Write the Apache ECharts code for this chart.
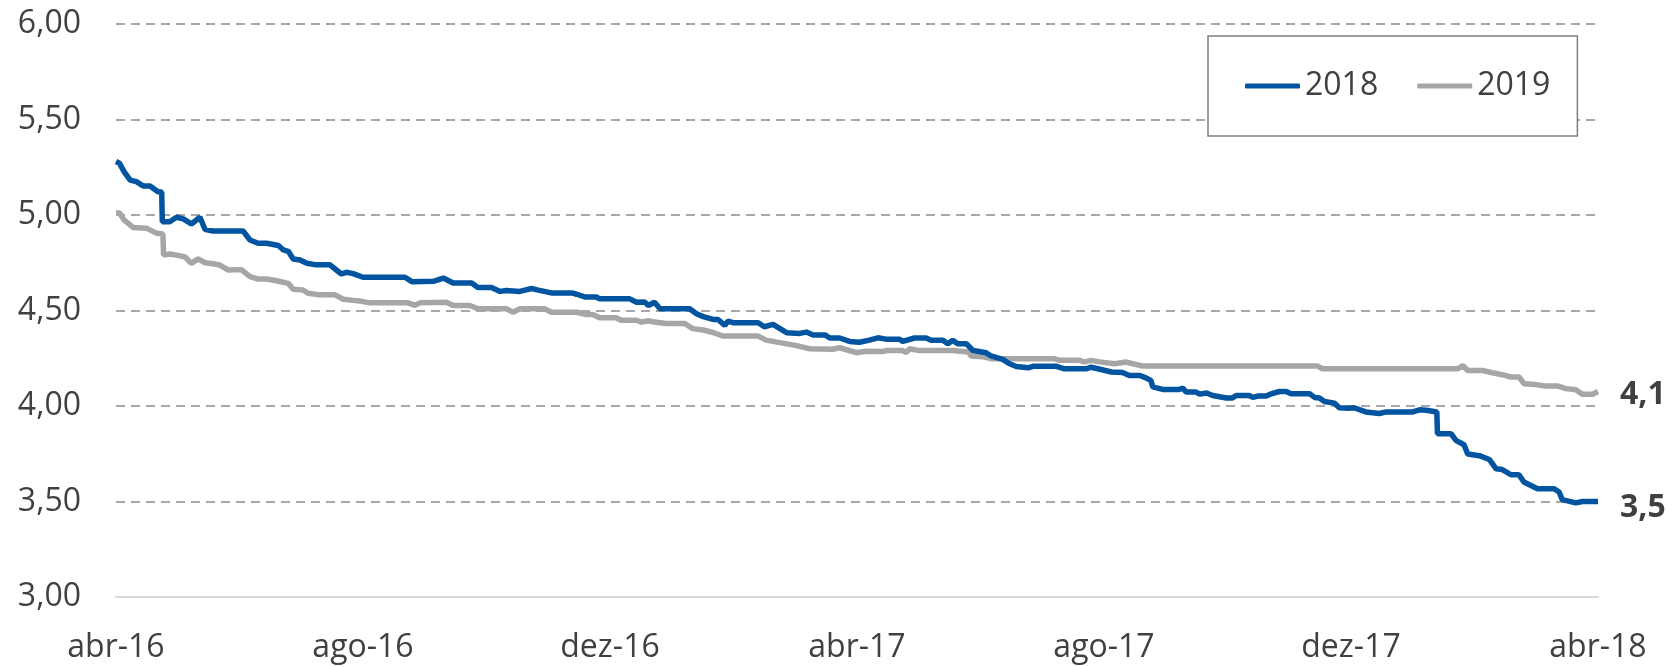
<!DOCTYPE html>
<html>
<head>
<meta charset="utf-8">
<script src="https://cdn.jsdelivr.net/npm/echarts@6/dist/echarts.min.js"></script>
<style>
  html, body { margin: 0; padding: 0; background: #fff; }
  #chart { width: 1676px; height: 667px; }
</style>
</head>
<body>
<div id="chart"></div>
<script>
// rótulos do eixo x, um a cada 4 meses a partir de abr-16
const tickLabels = ['abr-16', 'ago-16', 'dez-16', 'abr-17', 'ago-17', 'dez-17', 'abr-18'];

// 2018: posição em meses desde abr-16 e valor
const meses2018 = [0, 0.06, 0.13, 0.23, 0.33, 0.44, 0.55, 0.68, 0.74, 0.75, 0.87, 0.98, 1.09, 1.22, 1.36, 1.44, 1.57, 2.06, 2.17, 2.30, 2.44, 2.63, 2.71, 2.79, 2.87, 2.98, 3.09, 3.22, 3.46, 3.65, 3.73, 3.84, 4.00, 4.43, 4.46, 4.54, 4.68, 4.79, 5.14, 5.30, 5.46, 5.76, 5.86, 6.08, 6.22, 6.32, 6.54, 6.73, 6.84, 7.05, 7.38, 7.46, 7.59, 7.78, 7.83, 8.32, 8.43, 8.56, 8.62, 8.72, 8.81, 9.29, 9.40, 9.51, 9.67, 9.75, 9.86, 9.91, 9.99, 10.40, 10.50, 10.64, 10.86, 11.07, 11.18, 11.29, 11.48, 11.56, 11.72, 11.88, 12.04, 12.20, 12.34, 12.47, 12.69, 12.74, 12.93, 13.12, 13.20, 13.39, 13.47, 13.55, 13.63, 13.77, 13.88, 14.09, 14.17, 14.36, 14.47, 14.58, 14.77, 14.85, 15.23, 15.36, 15.71, 15.79, 15.90, 16.12, 16.30, 16.41, 16.58, 16.68, 16.76, 16.79, 16.95, 17.22, 17.28, 17.33, 17.49, 17.55, 17.66, 17.76, 17.98, 18.08, 18.14, 18.35, 18.41, 18.49, 18.63, 18.71, 18.84, 18.95, 19.03, 19.33, 19.41, 19.49, 19.57, 19.73, 19.81, 19.97, 20.05, 20.24, 20.46, 20.57, 21.00, 21.11, 21.22, 21.39, 21.40, 21.62, 21.70, 21.83, 21.89, 22.08, 22.24, 22.35, 22.45, 22.59, 22.72, 22.80, 23.02, 23.29, 23.37, 23.42, 23.64, 23.75, 24.00];
const valores2018 = [5.28, 5.27, 5.227, 5.183, 5.175, 5.152, 5.152, 5.122, 5.12, 4.965, 4.965, 4.988, 4.98, 4.953, 4.988, 4.925, 4.916, 4.916, 4.869, 4.852, 4.852, 4.84, 4.817, 4.81, 4.77, 4.764, 4.747, 4.74, 4.74, 4.691, 4.70, 4.693, 4.674, 4.674, 4.665, 4.674, 4.674, 4.651, 4.653, 4.67, 4.644, 4.644, 4.621, 4.621, 4.60, 4.605, 4.60, 4.615, 4.607, 4.592, 4.592, 4.585, 4.571, 4.571, 4.561, 4.561, 4.543, 4.545, 4.526, 4.543, 4.509, 4.509, 4.483, 4.468, 4.453, 4.453, 4.422, 4.444, 4.436, 4.436, 4.415, 4.427, 4.384, 4.38, 4.387, 4.372, 4.372, 4.356, 4.356, 4.338, 4.334, 4.345, 4.357, 4.35, 4.35, 4.338, 4.356, 4.356, 4.344, 4.344, 4.326, 4.344, 4.326, 4.326, 4.291, 4.279, 4.262, 4.244, 4.221, 4.207, 4.20, 4.208, 4.208, 4.195, 4.195, 4.203, 4.195, 4.178, 4.175, 4.16, 4.16, 4.147, 4.134, 4.10, 4.087, 4.087, 4.093, 4.073, 4.073, 4.062, 4.068, 4.055, 4.042, 4.042, 4.055, 4.055, 4.045, 4.052, 4.052, 4.064, 4.076, 4.076, 4.064, 4.064, 4.045, 4.042, 4.024, 4.015, 3.991, 3.988, 3.991, 3.969, 3.961, 3.969, 3.969, 3.98, 3.978, 3.969, 3.855, 3.855, 3.82, 3.797, 3.749, 3.74, 3.72, 3.671, 3.667, 3.64, 3.64, 3.602, 3.567, 3.567, 3.55, 3.51, 3.493, 3.50, 3.50];

// 2019
const meses2019 = [0, 0.06, 0.13, 0.28, 0.50, 0.66, 0.76, 0.77, 0.87, 0.98, 1.12, 1.22, 1.33, 1.44, 1.57, 1.68, 1.82, 2.03, 2.17, 2.30, 2.44, 2.60, 2.79, 2.87, 3.03, 3.11, 3.27, 3.54, 3.68, 3.84, 3.98, 4.11, 4.73, 4.84, 4.92, 5.35, 5.46, 5.73, 5.86, 6.32, 6.43, 6.54, 6.94, 7.05, 7.46, 7.62, 7.72, 7.83, 8.10, 8.18, 8.43, 8.51, 8.62, 8.72, 8.91, 9.21, 9.34, 9.51, 9.67, 9.83, 10.40, 10.53, 10.75, 11.02, 11.23, 11.61, 11.72, 11.99, 12.15, 12.42, 12.47, 12.74, 12.80, 12.85, 13.01, 13.55, 13.80, 13.85, 14.04, 14.17, 15.20, 15.28, 15.60, 15.68, 15.79, 15.93, 16.17, 16.36, 16.47, 16.63, 19.46, 19.54, 21.73, 21.81, 21.89, 22.13, 22.29, 22.45, 22.59, 22.72, 22.80, 22.99, 23.15, 23.34, 23.48, 23.64, 23.75, 23.91, 24.00];
const valores2019 = [5.01, 5.01, 4.974, 4.934, 4.93, 4.904, 4.90, 4.791, 4.796, 4.79, 4.78, 4.747, 4.77, 4.75, 4.745, 4.738, 4.712, 4.714, 4.677, 4.665, 4.665, 4.656, 4.642, 4.611, 4.607, 4.59, 4.583, 4.583, 4.559, 4.553, 4.548, 4.54, 4.54, 4.527, 4.54, 4.543, 4.526, 4.526, 4.509, 4.509, 4.491, 4.509, 4.509, 4.491, 4.491, 4.479, 4.479, 4.462, 4.462, 4.449, 4.449, 4.439, 4.446, 4.44, 4.432, 4.432, 4.405, 4.398, 4.385, 4.366, 4.366, 4.345, 4.332, 4.316, 4.30, 4.297, 4.305, 4.279, 4.287, 4.285, 4.29, 4.29, 4.28, 4.30, 4.29, 4.29, 4.283, 4.262, 4.258, 4.248, 4.247, 4.239, 4.239, 4.231, 4.239, 4.231, 4.221, 4.23, 4.221, 4.209, 4.209, 4.195, 4.195, 4.212, 4.186, 4.186, 4.174, 4.164, 4.152, 4.152, 4.117, 4.112, 4.105, 4.105, 4.091, 4.085, 4.061, 4.061, 4.076];

const fonte = '"Open Sans"';
const corTexto = '#404040';

function pares(xs, ys) {
    return xs.map((x, i) => [x, ys[i]]);
}

const chart = echarts.init(document.getElementById('chart'));

chart.setOption({
    animation: false,
    textStyle: { fontFamily: fonte, color: corTexto },
    grid: {
        left: 116,
        right: 78,
        top: 24,
        bottom: 70
    },
    legend: {
        left: 1208,
        top: 36,
        padding: [34, 27, 34, 37],
        backgroundColor: '#fff',
        borderColor: '#808080',
        borderWidth: 1.5,
        borderRadius: 0,
        icon: 'roundRect',
        itemWidth: 55,
        itemHeight: 5,
        itemGap: 39,
        textStyle: { fontFamily: fonte, fontSize: 32, color: corTexto },
        data: ['2018', '2019']
    },
    xAxis: {
        type: 'value',
        min: 0,
        max: 24,
        interval: 4,
        axisLine: { show: true, lineStyle: { color: '#d9d9d9', width: 2 } },
        axisTick: { show: false },
        splitLine: { show: false },
        axisLabel: {
            margin: 35,
            fontFamily: fonte,
            fontSize: 32,
            color: corTexto,
            formatter: v => tickLabels[Math.round(v / 4)]
        }
    },
    yAxis: {
        type: 'value',
        min: 3,
        max: 6,
        interval: 0.5,
        axisLine: { show: false },
        axisTick: { show: false },
        splitLine: {
            show: true,
            showMinLine: false,
            lineStyle: { color: '#a8a8a8', width: 2, type: [9, 6] }
        },
        axisLabel: {
            margin: 35,
            fontFamily: fonte,
            fontSize: 32,
            color: corTexto,
            formatter: v => v.toFixed(2).replace('.', ',')
        }
    },
    series: [
        {
            name: '2018',
            type: 'line',
            data: pares(meses2018, valores2018),
            showSymbol: false,
            symbol: 'none',
            lineStyle: { color: '#0054a0', width: 5.5 },
            itemStyle: { color: '#0054a0' },
            endLabel: {
                show: true,
                distance: 22,
                offset: [0, 6],
                fontFamily: fonte,
                fontSize: 32,
                fontWeight: 'bold',
                color: corTexto,
                formatter: p => p.value[1].toFixed(1).replace('.', ',')
            },
            z: 3
        },
        {
            name: '2019',
            type: 'line',
            data: pares(meses2019, valores2019),
            showSymbol: false,
            symbol: 'none',
            lineStyle: { color: '#a6a6a6', width: 5.5 },
            itemStyle: { color: '#a6a6a6' },
            endLabel: {
                show: true,
                distance: 22,
                offset: [0, 3],
                fontFamily: fonte,
                fontSize: 32,
                fontWeight: 'bold',
                color: corTexto,
                formatter: p => p.value[1].toFixed(1).replace('.', ',')
            },
            z: 2
        }
    ]
});
</script>
</body>
</html>
